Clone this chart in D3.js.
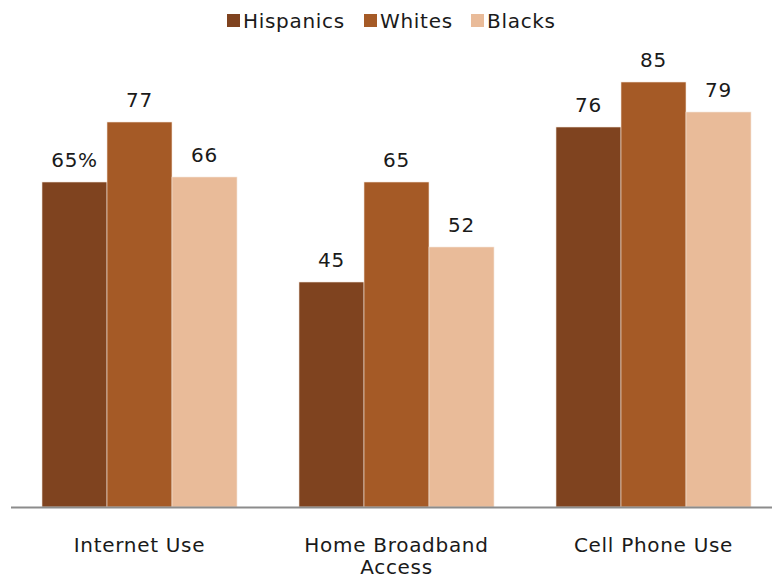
<!DOCTYPE html>
<html>
<head>
<meta charset="utf-8">
<script src="https://cdn.jsdelivr.net/npm/d3@7"></script>
<style>
  body { margin: 0; background: #fff; }
  text { font-family: "DejaVu Sans", Verdana, sans-serif; fill: #1a1a1a; letter-spacing: 0.7px; }
</style>
</head>
<body>
<svg></svg>
<script>
const categories = [['Internet Use'], ['Home Broadband', 'Access'], ['Cell Phone Use']];
const series = ['Hispanics', 'Whites', 'Blacks'];
const hispanics = [65, 45, 76];
const whites = [77, 65, 85];
const blacks = [66, 52, 79];
const valueLabels = [['65%', '45', '76'], ['77', '65', '85'], ['66', '52', '79']];

const width = 772;
const height = 579;
const values = [hispanics, whites, blacks];
const colors = ['#7f431f', '#a55a26', '#e9bb99'];

const svg = d3.select('svg')
    .attr('width', width)
    .attr('height', height);

const x0 = d3.scaleBand()
    .domain(d3.range(categories.length))
    .range([11, 782])
    .paddingInner(0.2412)
    .paddingOuter(0.1206);

const x1 = d3.scaleBand()
    .domain(d3.range(series.length))
    .range([0, x0.bandwidth()]);

const y = d3.scaleLinear()
    .domain([0, 100])
    .range([507, 7]);

const group = svg.selectAll('.grp')
    .data(categories)
    .enter().append('g')
    .attr('class', 'grp')
    .attr('transform', (d, i) => `translate(${x0(i)},0)`);

series.forEach((s, si) => {
    group.append('rect')
        .attr('x', x1(si))
        .attr('y', (d, i) => y(values[si][i]))
        .attr('width', x1.bandwidth())
        .attr('height', (d, i) => y(0) - y(values[si][i]))
        .attr('fill', colors[si])
        .attr('stroke', '#f3e6dc')
        .attr('stroke-width', 0.6);

    group.append('text')
        .attr('x', x1(si) + x1.bandwidth() / 2)
        .attr('y', (d, i) => y(values[si][i]) - 15)
        .attr('text-anchor', 'middle')
        .style('font-size', '20px')
        .text((d, i) => valueLabels[si][i]);
});

// axis line
svg.append('line')
    .attr('x1', 11).attr('x2', width)
    .attr('y1', 507.5).attr('y2', 507.5)
    .attr('stroke', '#8c8c8c')
    .attr('stroke-width', 2);

// category labels
group.append('text')
    .attr('text-anchor', 'middle')
    .attr('x', x0.bandwidth() / 2)
    .attr('y', 552)
    .style('font-size', '20px')
    .selectAll('tspan')
    .data(d => d)
    .enter().append('tspan')
    .attr('x', x0.bandwidth() / 2)
    .attr('dy', (d, i) => i ? 22 : 0)
    .text(d => d);

// legend
const legendX = [227, 364, 471];
const legend = svg.selectAll('.leg')
    .data(series)
    .enter().append('g')
    .attr('class', 'leg')
    .attr('transform', (d, i) => `translate(${legendX[i]},14)`);
legend.append('rect')
    .attr('width', 13).attr('height', 13)
    .attr('fill', (d, i) => colors[i]);
legend.append('text')
    .attr('x', 16)
    .attr('y', 14)
    .style('font-size', '20px')
    .text(d => d);
</script>
</body>
</html>
